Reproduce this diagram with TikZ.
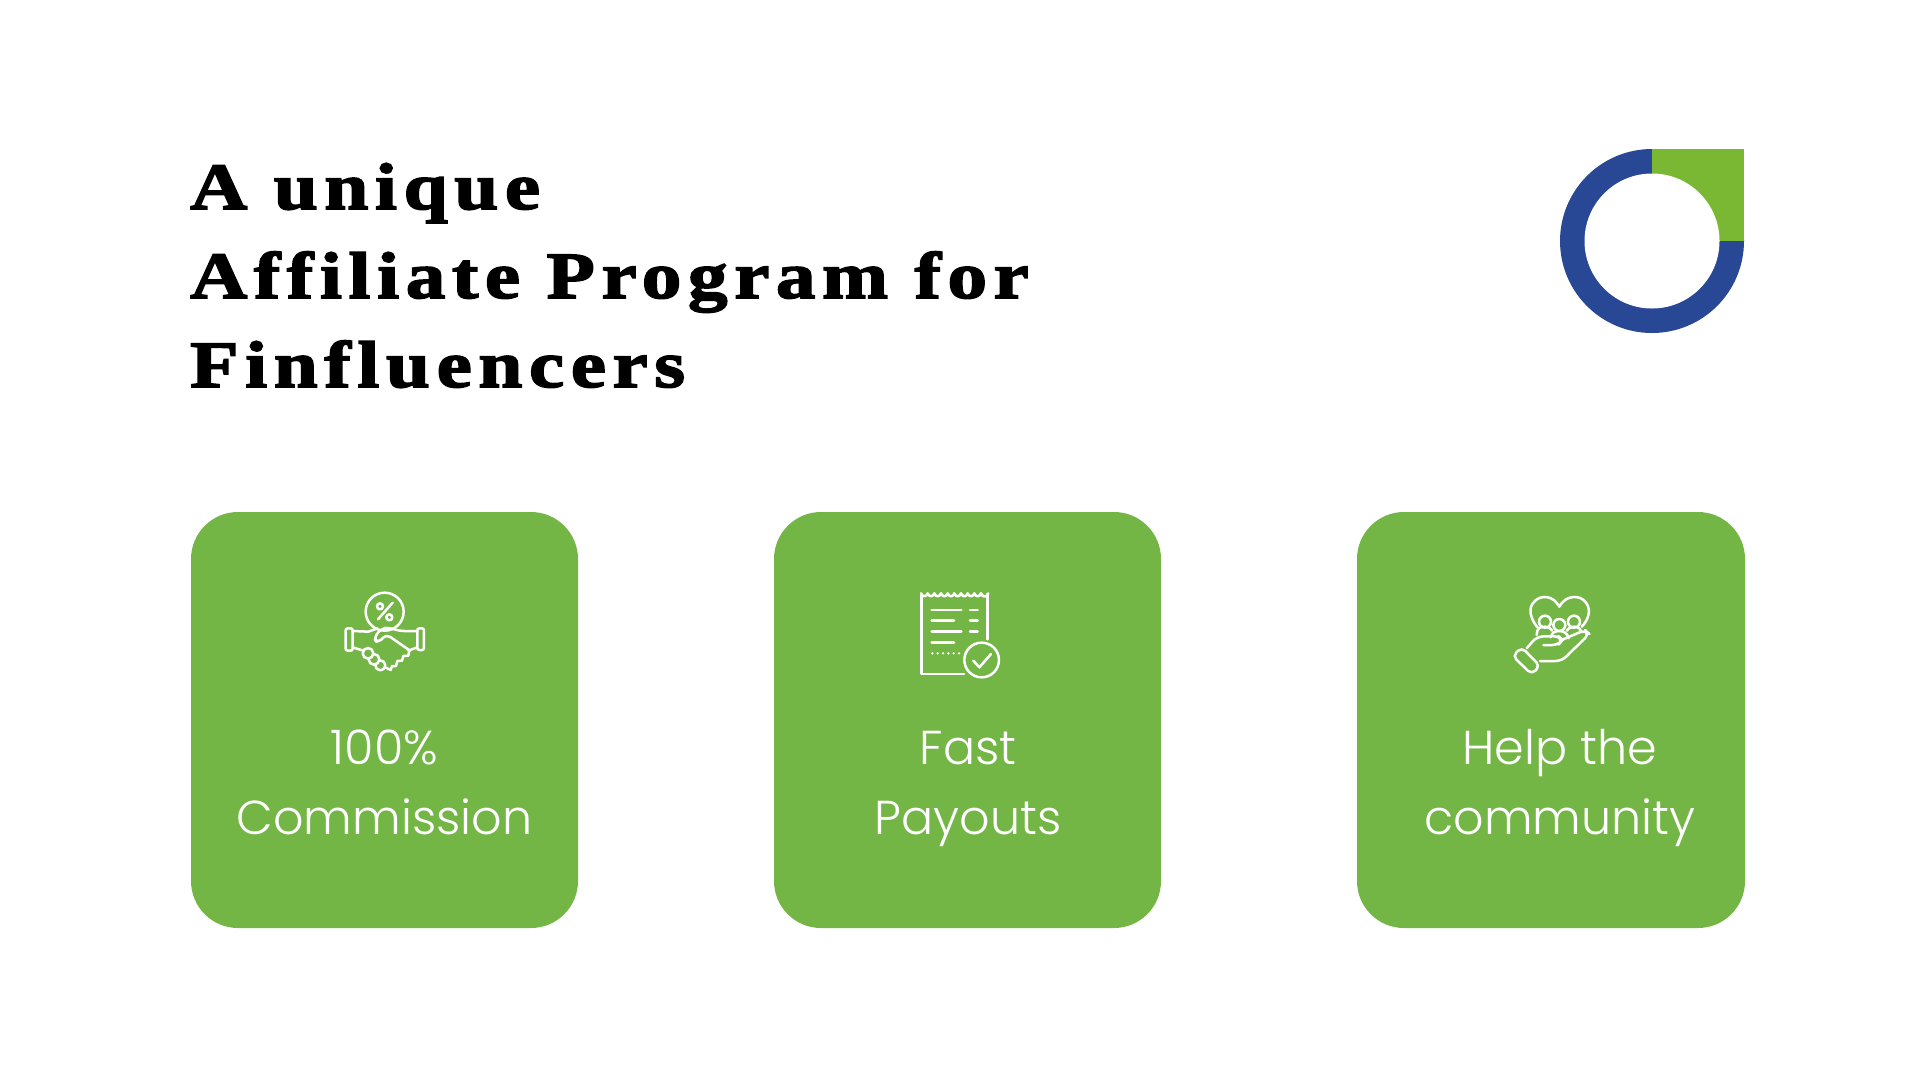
\documentclass[tikz,border=0pt]{standalone}
\usepackage{fontspec}
\newfontfamily\titlefont[LetterSpace=10,FakeBold=2.5,FakeStretch=1.2]{Liberation Serif Bold}
\newfontfamily\bodyfont[UprightFont=* Light]{Poppins}
\definecolor{cardgreen}{HTML}{74B645}
\definecolor{logogreen}{HTML}{7AB833}
\definecolor{logoblue}{HTML}{284795}
\tikzset{
  x=1pt,y=-1pt,
  card/.style={fill=cardgreen,draw=none,rounded corners=47pt},
  cardtext/.style={text=white,font=\bodyfont\fontsize{47.6}{70}\selectfont,align=center,inner sep=0pt},
  icon/.style={draw=white,line width=2.5pt,line join=round,line cap=round},
  iconscope/.style={scale=0.3333},
}
\begin{document}
\begin{tikzpicture}
\useasboundingbox[fill=white] (0,0) rectangle (1920,1080);
% title
\node[anchor=north west,inner sep=0pt,align=left,font=\titlefont\fontsize{66}{89}\selectfont,text=black] (title) at (190,163) {A unique\\Affiliate Program for\\Finfluencers};
% logo
\fill[logoblue] (1652,241) circle[radius=92];
\fill[logogreen] (1652,149) rectangle (1744,241);
\fill[white] (1652,241) circle[radius=67.5];
% cards
\fill[card] (191,512) rectangle (578,928);
\fill[card] (774,512) rectangle (1161,928);
\fill[card] (1357,512) rectangle (1745,928);
\node[cardtext] (t1) at (384.5,785.5) {\strut 100\%\\\strut Commission};
\node[cardtext] (t2) at (968,785.5) {\strut Fast\\\strut Payouts};
\node[cardtext] (t3) at (1560,785.5) {\strut Help the\\\strut community};
% icon 1: handshake
\begin{scope}[shift={(300,560)},iconscope]
\draw[icon] (254,155) circle[radius=57];
\draw[icon] (234,178) -- (278,128);
\draw[icon] (240,139) circle[radius=9];
\draw[icon] (268,172) circle[radius=9];
\draw[icon,rounded corners=2pt] (137,205) rectangle (158,272);
\draw[icon,rounded corners=2pt] (352,205) rectangle (372,270);
\draw[icon] (158,213) -- (205,215) -- (232,205);
\draw[icon,rounded corners=5pt] (352,213) -- (298,213) -- (268,203) -- (245,205) -- (220,235) -- (235,250) -- (258,222) -- (330,272);
\draw[icon] (352,262) -- (325,272);
\draw[icon] (158,262) -- (190,272);
\draw[icon] (328,272) -- (325,287) -- (310,288) -- (306,302) -- (292,303) -- (288,318) -- (276,318) -- (272,330) -- (256,322);
\draw[icon,fill=cardgreen] (241,316) circle[radius=15];
\draw[icon,fill=cardgreen] (222,298) circle[radius=16];
\draw[icon,fill=cardgreen] (204,280) circle[radius=16];
\end{scope}
% icon 2: receipt
\begin{scope}[shift={(890,570)},iconscope]
\draw[icon] (93,70) to[out=-70,in=-110,looseness=1.6] (113,70) to[out=-70,in=-110,looseness=1.6] (133,70) to[out=-70,in=-110,looseness=1.6] (153,70) to[out=-70,in=-110,looseness=1.6] (173,70) to[out=-70,in=-110,looseness=1.6] (193,70) to[out=-70,in=-110,looseness=1.6] (213,70) to[out=-70,in=-110,looseness=1.6] (233,70) to[out=-70,in=-110,looseness=1.6] (253,70) to[out=-70,in=-110,looseness=1.6] (273,70) to[out=-70,in=-110,looseness=1.6] (295,70);
\draw[icon] (95,72) -- (95,312) -- (222,312);
\draw[icon] (293,72) -- (293,208);
\foreach \yy/\xe in {120/214,152/192,185/214,217/192}
  \draw[icon] (125,\yy) -- (\xe,\yy);
\foreach \yy in {120,152,185}
  \draw[icon] (240,\yy) -- (263,\yy);
\foreach \xx in {127,143,159,175,191,207}
  \fill[white] (\xx,250) circle[radius=4];
\draw[icon] (275,270) circle[radius=52];
\draw[icon] (250,272) -- (268,292) -- (303,252);
\end{scope}
% icon 3: hand with heart
\begin{scope}[shift={(1490,580)},iconscope]
\draw[icon] (143,143) .. controls (120,115) and (115,85) .. (130,68) .. controls (150,42) and (190,45) .. (208,80) .. controls (226,45) and (270,42) .. (288,68) .. controls (305,90) and (295,120) .. (275,140);
\draw[icon] (165,125) circle[radius=18];
\draw[icon] (208,135) circle[radius=18];
\draw[icon] (252,125) circle[radius=18];
\draw[icon] (140,165) .. controls (140,145) and (150,140) .. (165,140) .. controls (175,140) and (182,145) .. (187,152);
\draw[icon] (230,152) .. controls (235,145) and (242,140) .. (252,140) .. controls (265,140) and (272,147) .. (275,155);
\draw[icon] (182,172) .. controls (185,158) and (195,153) .. (208,153) .. controls (222,153) and (232,160) .. (236,175);
\draw[icon,rounded corners=5pt] (68,228) -- (95,202) -- (150,258) -- (125,283) -- cycle;
\draw[icon,rounded corners=6pt] (110,205) -- (140,170) -- (205,168) -- (218,180) -- (205,195) -- (160,195);
\draw[icon,rounded corners=6pt] (215,180) -- (285,150) -- (298,162) -- (215,243) -- (150,243);
\end{scope}
\end{tikzpicture}
\end{document}
